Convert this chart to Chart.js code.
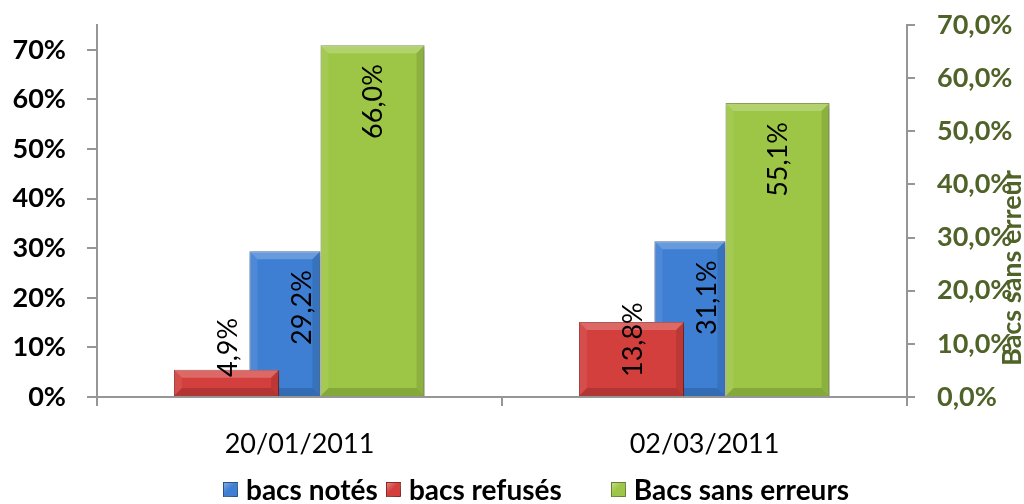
<!DOCTYPE html>
<html>
<head>
<meta charset="utf-8">
<title>Bacs notés / refusés / sans erreurs</title>
<script src="https://cdn.jsdelivr.net/npm/chart.js"></script>
<style>
  body { margin: 0; background: #fff; font-family: Lato, Arial; }
  .wrap { position: relative; width: 1024px; height: 504px; }
  #legend { position: absolute; left: 223px; top: 472px; display: flex; align-items: center; font: bold 28px Lato; color: #000; white-space: nowrap; }
  #legend .item { display: flex; align-items: center; }
  #legend .box { width: 15px; height: 15px; margin-right: 8px; box-sizing: border-box; border: 1px solid rgba(0,0,0,0.35); }
</style>
</head>
<body>
<div class="wrap">
  <canvas id="c" width="1024" height="504"></canvas>
  <div id="legend"></div>
</div>
<script>
// categories and values (bar heights as drawn, in %)
const dates = ['20/01/2011', '02/03/2011'];
const refuses = [5.5, 15.1];
const notes = [29.4, 31.4];
const sansErreurs = [66.2, 55.3];   // secondary axis
// data label texts
const refusesText = ['4,9%', '13,8%'];
const notesText = ['29,2%', '31,1%'];
const sansErreursText = ['66,0%', '55,1%'];

const catPct = 0.4326; // 6 slots per category
const spacer = () => ({ label: '', data: [], spacer: true, yAxisID: 'y', categoryPercentage: catPct });

const datasets = [
  { label: 'bacs refusés', data: refuses, yAxisID: 'y', backgroundColor: '#d23f3c', borderColor: '#9c2e2c',
    barPercentage: 3.6, categoryPercentage: catPct, texts: refusesText, pos: 'base', dx: 2 },
  spacer(),
  { label: 'bacs notés', data: notes, yAxisID: 'y', backgroundColor: '#3e7fd3', borderColor: '#2c5d9c',
    barPercentage: 2.43, categoryPercentage: catPct, texts: notesText, pos: 'end', dx: 17 },
  spacer(),
  spacer(),
  { label: 'Bacs sans erreurs', data: sansErreurs, yAxisID: 'y2', backgroundColor: '#9dc646', borderColor: '#6c8a2c',
    barPercentage: 3.56, categoryPercentage: catPct, texts: sansErreursText, pos: 'end', dx: 1 }
];
datasets.forEach(d => { d.borderWidth = 1; d.clip = false; });
const legendOrder = [2, 0, 5];

// shadow under bars + bevel look
const bevelPlugin = {
  id: 'bevel',
  beforeDatasetDraw(chart, args) {
    const ctx = chart.ctx;
    ctx.save();
    ctx.shadowColor = 'rgba(0,0,0,0.35)';
    ctx.shadowBlur = 6;
    ctx.shadowOffsetX = 2;
    ctx.shadowOffsetY = 3;
  },
  afterDatasetDraw(chart, args) {
    const ctx = chart.ctx;
    ctx.restore();
    const ds = chart.data.datasets[args.index];
    if (ds.spacer) return;
    args.meta.data.forEach(el => {
      const l = el.x - el.width / 2, r = el.x + el.width / 2;
      const t = Math.min(el.y, el.base), b = Math.max(el.y, el.base);
      const s = Math.min(8, (b - t) / 2);
      const poly = (pts, col) => {
        ctx.beginPath();
        ctx.moveTo(pts[0][0], pts[0][1]);
        pts.slice(1).forEach(p => ctx.lineTo(p[0], p[1]));
        ctx.closePath();
        ctx.fillStyle = col;
        ctx.fill();
      };
      poly([[l, t], [r, t], [r - s, t + s], [l + s, t + s]], 'rgba(255,255,255,0.22)');
      poly([[l, t], [l + s, t + s], [l + s, b - s], [l, b]], 'rgba(255,255,255,0.08)');
      poly([[r, t], [r - s, t + s], [r - s, b - s], [r, b]], 'rgba(0,0,0,0.1)');
      poly([[l, b], [l + s, b - s], [r - s, b - s], [r, b]], 'rgba(0,0,0,0.15)');
    });
  }
};

const labelPlugin = {
  id: 'barLabels',
  afterDatasetsDraw(chart) {
    const ctx = chart.ctx;
    ctx.save();
    ctx.font = '27px Lato';
    ctx.fillStyle = '#000';
    ctx.textBaseline = 'middle';
    chart.data.datasets.forEach((ds, di) => {
      if (ds.spacer) return;
      chart.getDatasetMeta(di).data.forEach((el, i) => {
        const t = Math.min(el.y, el.base), b = Math.max(el.y, el.base);
        ctx.save();
        if (ds.pos === 'base') {
          ctx.translate(el.x + ds.dx, b - 19);
          ctx.textAlign = 'left';
        } else {
          ctx.translate(el.x + ds.dx, t + 19);
          ctx.textAlign = 'right';
        }
        ctx.rotate(-Math.PI / 2);
        ctx.fillText(ds.texts[i], 0, 0);
        ctx.restore();
      });
    });
    ctx.restore();
  }
};

const axisTitlePlugin = {
  id: 'rightTitle',
  afterDraw(chart) {
    const ctx = chart.ctx;
    ctx.save();
    ctx.translate(chart.width - 12, chart.chartArea.bottom - 129);
    ctx.rotate(-Math.PI / 2);
    ctx.font = 'bold 27px Lato';
    ctx.fillStyle = '#4f6228';
    ctx.textAlign = 'center';
    ctx.textBaseline = 'middle';
    ctx.fillText('Bacs sans erreur', 0, 0);
    ctx.restore();
  }
};

Chart.defaults.font.family = 'Lato';
const axisGrey = '#969696';

const chart = new Chart(document.getElementById('c'), {
  type: 'bar',
  data: { labels: dates, datasets: datasets },
  options: {
    responsive: false,
    animation: false,
    devicePixelRatio: 1,
    layout: { padding: { top: 25, left: 0, right: 0, bottom: 0 } },
    plugins: { legend: { display: false }, tooltip: { enabled: false } },
    scales: {
      x: {
        offset: true,
        grid: { offset: true, drawOnChartArea: false, color: axisGrey, lineWidth: 2, tickLength: 9 },
        border: { color: axisGrey, width: 2 },
        ticks: { color: '#000', font: { size: 27 }, padding: 22, maxRotation: 0, autoSkip: false },
        afterFit(axis) { axis.height = 107; axis.paddingLeft = 0; axis.paddingRight = 0; }
      },
      y: {
        position: 'left',
        min: 0, max: 75,
        grid: { drawOnChartArea: false, color: axisGrey, lineWidth: 2, tickLength: 10 },
        border: { color: axisGrey, width: 2 },
        ticks: { stepSize: 10, includeBounds: false, color: '#000', font: { size: 27, weight: 'bold' }, padding: 21,
                 callback: v => v + '%' },
        afterBuildTicks(axis) { axis.ticks = axis.ticks.filter(t => t.value % 10 === 0); },
        afterFit(axis) { axis.width = 97; axis.paddingTop = 0; axis.paddingBottom = 0; }
      },
      y2: {
        position: 'right',
        min: 0, max: 70,
        grid: { drawOnChartArea: false, color: axisGrey, lineWidth: 2, tickLength: 8 },
        border: { color: axisGrey, width: 2 },
        ticks: { stepSize: 10, color: '#4f6228', font: { size: 27, weight: 'bold' }, padding: 22,
                 callback: v => v.toFixed(1).replace('.', ',') + '%' },
        afterFit(axis) { axis.width = 117; axis.paddingTop = 0; axis.paddingBottom = 0; }
      }
    }
  },
  plugins: [bevelPlugin, labelPlugin, axisTitlePlugin]
});

// legend
const gaps = [0, 8, 49];
const legend = document.getElementById('legend');
legendOrder.forEach((di, k) => {
  const ds = datasets[di];
  const item = document.createElement('div');
  item.className = 'item';
  item.style.marginLeft = gaps[k] + 'px';
  const box = document.createElement('span');
  box.className = 'box';
  box.style.background = 'linear-gradient(135deg, rgba(255,255,255,0.35), rgba(255,255,255,0) 45%), ' + ds.backgroundColor;
  const txt = document.createElement('span');
  txt.textContent = ds.label;
  item.appendChild(box);
  item.appendChild(txt);
  legend.appendChild(item);
});
</script>
</body>
</html>
